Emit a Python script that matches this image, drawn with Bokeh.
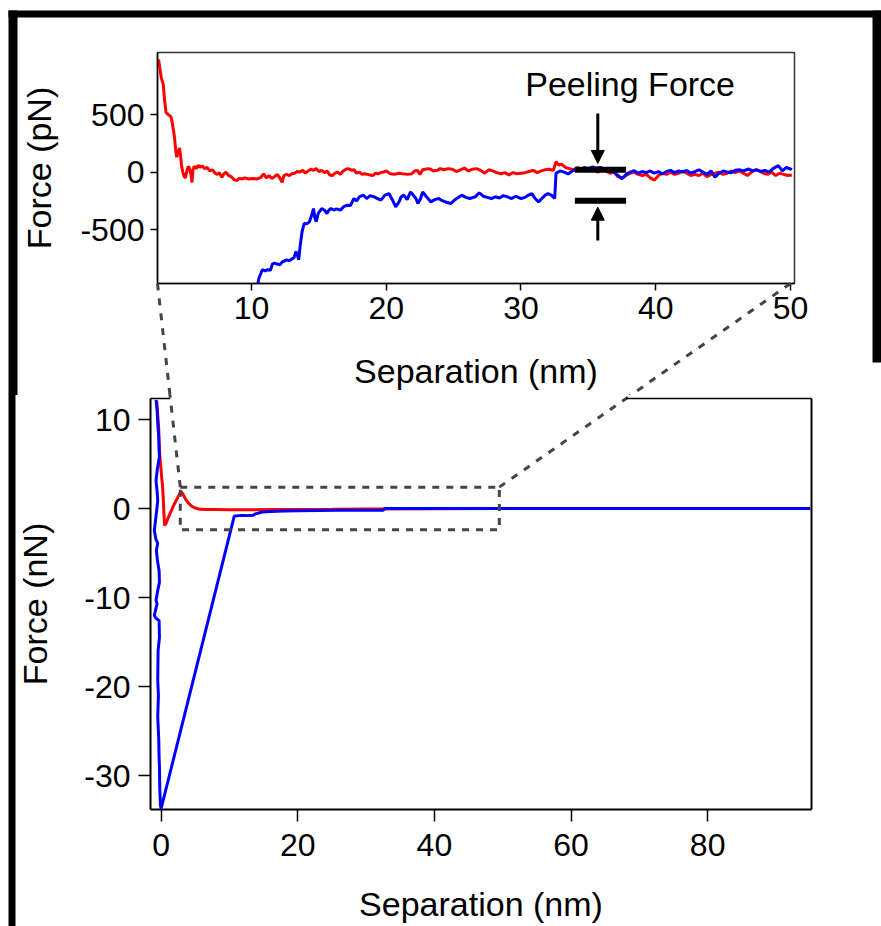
from bokeh.plotting import figure
from bokeh.models import Range1d, Arrow, NormalHead, Label, BoxAnnotation, FixedTicker
from bokeh.layouts import column
from bokeh.embed import file_html
from bokeh.resources import INLINE

FONT = "Liberation Sans"

# ---------------- data ----------------
# inset: force in pN vs separation in nm
inset_red_x = [3.1, 3.2, 3.3, 3.45, 3.55, 3.65, 3.8, 3.95, 4.05, 4.15, 4.25, 4.3, 4.38, 4.45, 4.55, 4.65, 4.72, 4.8, 4.9, 5.0,
               5.1, 5.2, 5.3, 5.4, 5.5, 5.58, 5.65, 5.75, 5.9, 6.05, 6.2, 6.35, 6.5, 6.7, 6.9, 7.1, 7.3, 7.45, 7.6, 7.8,
               7.95, 8.1, 8.3, 8.5, 8.7, 8.9, 9.1, 9.3, 9.5, 9.8, 10.1, 10.4, 10.7, 10.9, 11.1, 11.3, 11.5, 11.7, 11.9, 12.1,
               12.27, 12.4, 12.6, 12.8, 13.0, 13.2, 13.4, 13.6, 13.8, 14.0, 14.2, 14.4, 14.6, 14.8, 15.0, 15.2, 15.4, 15.6, 15.8, 16.0,
               16.2, 16.4, 16.6, 16.8, 17.0, 17.2, 17.4, 17.6, 17.8, 18.0, 18.2, 18.4, 18.6, 18.8, 19.0, 19.2, 19.4, 19.6, 19.8, 20.0,
               20.3, 20.6, 20.9, 21.2, 21.6, 21.9, 22.1, 22.3, 22.5, 22.7, 22.9, 23.1, 23.3, 23.5, 23.8, 24.0, 24.3, 24.6, 24.9, 25.2,
               25.5, 25.8, 26.1, 26.4, 26.7, 27.0, 27.3, 27.6, 27.9, 28.2, 28.5, 28.8, 29.1, 29.4, 29.7, 30.0, 30.3, 30.6, 30.9, 31.2,
               31.5, 31.8, 32.1, 32.4, 32.6, 32.8, 33.0, 33.3, 33.6, 33.9, 34.2, 34.5, 34.8, 35.1, 35.4, 35.7, 36.0, 36.3, 36.6, 36.9,
               37.2, 37.5, 37.8, 38.1, 38.4, 38.7, 39.0, 39.3, 39.6, 39.9, 40.2, 40.5, 40.8, 41.1, 41.4, 41.7, 42.0, 42.3, 42.6, 42.9,
               43.2, 43.5, 43.8, 44.1, 44.4, 44.7, 45.0, 45.3, 45.6, 45.9, 46.2, 46.5, 46.8, 47.1, 47.4, 47.7, 48.0, 48.3, 48.6, 48.9,
               49.2, 49.5, 49.8, 50.1]
inset_red_y = [980, 900, 820, 760, 620, 520, 500, 490, 470, 400, 330, 280, 180, 130, 170, 210, 160, 60, 0, -40,
               -50, 10, 50, 30, -20, -90, 20, 50, 30, 60, 40, 55, 30, 40, 10, 20, -10, -20, -5, -45,
               -15, 0, -30, -40, -65, -75, -55, -60, -50, -60, -55, -60, -45, -15, -50, -30, -55, -40, -20, -50,
               -90, -30, -20, -30, -15, -10, 5, 0, 15, -10, 10, 25, 15, 30, 5, 15, -5, 10, -25, -30,
               -10, 0, -20, 10, 25, 30, 15, 20, -10, 0, -20, -15, -20, -25, -30, -10, -15, -5, 0, 10,
               -15, -20, -10, -15, -20, -15, 10, 15, -20, 20, 25, 30, 25, 10, 15, 30, 20, 30, 25, 5,
               20, 35, 10, 25, 30, 15, -10, 20, 10, -5, -15, -5, -25, -5, -15, -10, -5, 5, 15, -5,
               10, 20, 25, 15, 90, 60, 70, 40, 30, 20, 40, 20, 30, 10, 20, 0, 20, 10, -10, 0,
               -40, -50, -30, -10, 0, -20, -30, -20, -50, -70, -30, -10, -20, 0, -20, -10, 10, -10, -30, -20,
               -30, -10, -40, -20, -10, 0, -20, -10, 10, -5, 10, -10, -30, 0, 20, 10, -10, -20, 0, -30,
               -10, -20, -30, -25]
inset_blue_x = [10.45, 10.55, 10.7, 10.8, 11.0, 11.2, 11.4, 11.55, 11.7, 11.9, 12.1, 12.3, 12.5, 12.6, 12.8, 13.0, 13.15, 13.3, 13.4, 13.5,
                13.6, 13.75, 13.9, 14.1, 14.3, 14.45, 14.6, 14.7, 14.8, 14.95, 15.2, 15.4, 15.6, 15.75, 15.9, 16.1, 16.3, 16.6, 16.85, 17.1,
                17.35, 17.6, 17.8, 18.0, 18.3, 18.55, 18.8, 19.1, 19.35, 19.6, 19.9, 20.2, 20.45, 20.7, 20.95, 21.1, 21.3, 21.55, 21.8, 22.0,
                22.2, 22.35, 22.55, 22.7, 22.95, 23.1, 23.3, 23.6, 23.9, 24.1, 24.4, 24.8, 25.1, 25.35, 25.6, 25.9, 26.2, 26.6, 26.9, 27.2,
                27.5, 27.8, 28.1, 28.4, 28.7, 29.0, 29.3, 29.6, 30.0, 30.3, 30.55, 30.8, 31.05, 31.3, 31.55, 31.8, 32.0, 32.25, 32.5, 32.6,
                32.9, 33.2, 33.5, 33.8, 34.1, 34.4, 34.7, 35.0, 35.3, 35.6, 35.9, 36.2, 36.5, 36.9, 37.2, 37.5, 37.8, 38.1, 38.4, 38.7,
                39.0, 39.3, 39.6, 39.9, 40.2, 40.5, 40.8, 41.1, 41.4, 41.7, 42.0, 42.3, 42.6, 42.9, 43.2, 43.5, 43.8, 44.1, 44.4, 44.7,
                45.0, 45.3, 45.6, 45.9, 46.2, 46.5, 46.9, 47.2, 47.5, 47.8, 48.1, 48.4, 48.7, 49.1, 49.4, 49.7, 50.0, 50.1]
inset_blue_y = [-980, -921, -880, -849, -860, -849, -855, -800, -791, -800, -806, -780, -770, -763, -770, -755, -745, -690, -720, -763,
                -650, -520, -447, -450, -432, -380, -317, -400, -432, -360, -317, -330, -360, -330, -317, -330, -320, -331, -300, -288,
                -290, -230, -250, -215, -201, -230, -205, -216, -230, -244, -200, -187, -240, -302, -260, -216, -200, -240, -172, -200,
                -230, -273, -230, -172, -210, -230, -259, -240, -230, -246, -260, -273, -240, -220, -201, -220, -230, -216, -180, -210,
                -220, -230, -215, -225, -205, -216, -230, -210, -230, -220, -200, -187, -230, -259, -230, -200, -187, -200, -230, -10,
                10, 0, -16, 10, 20, 15, 41, 30, 45, 35, 41, 20, 10, 0, -30, -59, -20, 0, 12, -10,
                5, -5, 10, -10, 5, -16, 5, 15, -5, 10, 0, 15, -10, 5, 20, 0, -20, 10, -45, -10,
                10, 0, -5, 15, 20, 10, 27, 10, 20, 5, 15, 0, 30, 56, 10, 40, 27, 20]

# main: force in nN vs separation in nm
main_red_x = [-0.65, -0.55, -0.45, -0.35, -0.3, -0.2, -0.1, 0.0, 0.1, 0.2, 0.3, 0.4, 0.5, 0.7, 1.0, 1.4, 1.8, 2.2, 2.6, 2.9,
              3.2, 3.6, 4.0, 4.5, 5.0, 5.5, 6.5, 8.0, 10.0, 13.0, 16.0, 20.0, 25.0, 30.0, 40.0, 50.0, 60.0, 70.0, 80.0, 90.0, 95.0]
main_red_y = [12.1, 11.0, 10.0, 8.8, 7.5, 6.0, 5.0, 4.2, 3.3, 2.6, 1.2, -0.5, -1.9, -1.7, -1.1, -0.4, 0.3, 0.9, 1.5, 1.9,
              1.6, 1.0, 0.6, 0.25, 0.05, -0.05, -0.1, -0.12, -0.15, -0.15, -0.12, -0.1, -0.08, -0.05, -0.03, 0.0, 0.0, 0.0, 0.0, 0.0, 0.0]
main_blue_x = [-0.75, -0.6, -0.5, -0.35, -0.3, -0.25, -0.55, -0.75, -0.6, -0.5, -0.7, -1.0, -0.75, -0.5, -0.7, -0.55, -0.3, -0.25, -0.5, -0.75,
               -0.6, -1.0, -0.8, -0.3, -0.25, -0.45, -0.5, -0.4, -0.5, -0.35, -0.3, -0.25, -0.2, -0.1, 0.0,
               10.7, 11.5, 12.5, 13.5, 13.8, 14.3, 14.8, 16.0, 18.0, 20.0, 23.0, 26.0, 29.0, 32.5, 32.7, 36.0, 40.0, 50.0, 60.0,
               70.0, 80.0, 90.0, 95.0]
main_blue_y = [12.2, 11.2, 9.6, 8.0, 6.5, 5.8, 4.5, 3.1, 2.0, 0.9, -0.5, -2.5, -3.5, -3.9, -4.7, -5.8, -7.0, -8.3, -9.2, -10.3,
               -10.7, -12.0, -12.3, -12.6, -14.5, -16.0, -19.3, -21.0, -23.4, -26.0, -28.0, -29.0, -31.5, -33.4, -33.7,
               -0.85, -0.8, -0.8, -0.75, -0.6, -0.5, -0.4, -0.35, -0.28, -0.25, -0.22, -0.2, -0.2, -0.2, 0.0, 0.0, 0.0, 0.0, 0.0,
               0.0, 0.0, 0.0, 0.0]

inset_xticks = [10, 20, 30, 40, 50]
inset_yticks = [-500, 0, 500]
main_xticks = [0, 20, 40, 60, 80]
main_yticks = [-30, -20, -10, 0, 10]

zoom_box_x = [2.8, 49.5]     # nm
zoom_box_y = [-2.4, 2.4]     # nN
peel_levels = [20, -250]     # pN : top / bottom of the peeling step
peel_x = [34.0, 37.8]        # nm extent of the level markers
peel_arrow_x = 35.7

# ---------------- layout (window pixels) ----------------
W, H = 881, 926
H1 = 395                       # height of the inset figure
IN_L, IN_R, IN_T, IN_B = 157, 794, 52, 283
MN_L, MN_R, MN_T, MN_B = 150, 811, 398, 809
IN_X, IN_Y = (3.02, 50.3), (-969.0, 1040.0)
MN_X, MN_Y = (-1.56, 95.2), (-33.82, 12.36)


def in_data(px, py):
    x = IN_X[0] + (px - IN_L) / (IN_R - IN_L) * (IN_X[1] - IN_X[0])
    y = IN_Y[0] + (IN_B - py) / (IN_B - IN_T) * (IN_Y[1] - IN_Y[0])
    return x, y


def in_px(x, y):
    px = IN_L + (x - IN_X[0]) / (IN_X[1] - IN_X[0]) * (IN_R - IN_L)
    py = IN_B - (y - IN_Y[0]) / (IN_Y[1] - IN_Y[0]) * (IN_B - IN_T)
    return px, py


def mn_data(px, py):
    x = MN_X[0] + (px - MN_L) / (MN_R - MN_L) * (MN_X[1] - MN_X[0])
    y = MN_Y[0] + (MN_B - py) / (MN_B - MN_T) * (MN_Y[1] - MN_Y[0])
    return x, y


def mn_px(x, y):
    px = MN_L + (x - MN_X[0]) / (MN_X[1] - MN_X[0]) * (MN_R - MN_L)
    py = MN_B - (y - MN_Y[0]) / (MN_Y[1] - MN_Y[0]) * (MN_B - MN_T)
    return px, py


def style_axes(p, tick_size, label_size, tick_out, label_standoff, axis_standoff, axis_w):
    for ax in (p.xaxis[0], p.yaxis[0]):
        ax.major_label_text_font = FONT
        ax.major_label_text_font_size = tick_size
        ax.major_label_text_color = "black"
        ax.axis_label_text_font = FONT
        ax.axis_label_text_font_size = label_size
        ax.axis_label_text_font_style = "normal"
        ax.axis_label_text_color = "black"
        ax.axis_line_color = "black"
        ax.axis_line_width = axis_w
        ax.major_tick_line_color = "black"
        ax.major_tick_line_width = 1.5
        ax.major_tick_in = 0
        ax.major_tick_out = tick_out
        ax.minor_tick_line_color = None
    p.xgrid.visible = False
    p.ygrid.visible = False
    p.xaxis[0].major_label_standoff = label_standoff[0]
    p.yaxis[0].major_label_standoff = label_standoff[1]
    p.xaxis[0].axis_label_standoff = axis_standoff[0]
    p.yaxis[0].axis_label_standoff = axis_standoff[1]


def seg(p, x0, y0, x1, y1, w, color="black", dash="solid"):
    r = p.segment(x0=[x0], y0=[y0], x1=[x1], y1=[y1], line_color=color, line_width=w, line_dash=dash)
    r.level = "overlay"
    return r


# ---------------- inset ----------------
inset = figure(width=W, height=H1, output_backend="svg", toolbar_location=None, title=None,
               x_range=Range1d(*IN_X), y_range=Range1d(*IN_Y), frame_align=False,
               min_border_left=IN_L, min_border_right=W - IN_R,
               min_border_top=IN_T, min_border_bottom=H1 - IN_B,
               x_axis_label="Separation (nm)", y_axis_label="Force (pN)")
inset.outline_line_color = "#333333"
inset.outline_line_width = 1.5
inset.xaxis.ticker = FixedTicker(ticks=inset_xticks)
inset.yaxis.ticker = FixedTicker(ticks=inset_yticks)
inset.yaxis.major_label_overrides = {v: str(v) for v in inset_yticks}
style_axes(inset, "32px", "34px", 7, (6, 6), (30, 19), 1.5)

inset.line(inset_red_x, inset_red_y, line_color="#ff0000", line_width=3)
inset.line(inset_blue_x, inset_blue_y, line_color="#0000ff", line_width=3)

# peeling force markers
for lev in peel_levels:
    inset.segment(x0=[peel_x[0]], y0=[lev], x1=[peel_x[1]], y1=[lev], line_color="black", line_width=6)
inset.add_layout(Arrow(end=NormalHead(size=13, fill_color="black", line_color="black"),
                       x_start=peel_arrow_x, y_start=510, x_end=peel_arrow_x, y_end=peel_levels[0] + 55,
                       line_color="black", line_width=3))
inset.add_layout(Arrow(end=NormalHead(size=13, fill_color="black", line_color="black"),
                       x_start=peel_arrow_x, y_start=-595, x_end=peel_arrow_x, y_end=peel_levels[1] - 55,
                       line_color="black", line_width=3))
inset.add_layout(Label(x=38.1, y=765, text="Peeling Force", text_font=FONT, text_font_size="34px",
                       text_align="center", text_baseline="alphabetic", text_color="black"))

# ---------------- main ----------------
H2 = H - H1
main = figure(width=W, height=H2, output_backend="svg", toolbar_location=None, title=None,
              x_range=Range1d(*MN_X), y_range=Range1d(*MN_Y), frame_align=False,
              min_border_left=MN_L, min_border_right=W - MN_R,
              min_border_top=MN_T - H1, min_border_bottom=H - MN_B,
              x_axis_label="Separation (nm)", y_axis_label="Force (nN)")
main.outline_line_color = None
main.xaxis.ticker = FixedTicker(ticks=main_xticks)
main.yaxis.ticker = FixedTicker(ticks=main_yticks)
main.yaxis.major_label_overrides = {v: str(v) for v in main_yticks}
style_axes(main, "32px", "34px", 12, (12, 8), (26, 27), 2)

main.line(main_red_x, main_red_y, line_color="#ff0000", line_width=3)
main.line(main_blue_x, main_blue_y, line_color="#0000ff", line_width=3)

main.add_layout(BoxAnnotation(left=zoom_box_x[0], right=zoom_box_x[1], bottom=zoom_box_y[0], top=zoom_box_y[1],
                              fill_alpha=0, line_alpha=1, line_color="#444444", line_width=3, line_dash="7 7"))

# ---------------- connectors between zoom box and inset ----------------
DASH = "7 8"
GREY = "#444444"
corners_in = [in_px(IN_X[0], IN_Y[0]), in_px(inset_xticks[-1], IN_Y[0])]
corners_mn = [mn_px(zoom_box_x[0], zoom_box_y[1]), mn_px(zoom_box_x[1], zoom_box_y[1])]
gap = []
for (ax_, ay_), (bx_, by_) in zip(corners_in, corners_mn):
    s = in_data(ax_, ay_)
    e = in_data(bx_, by_)
    seg(inset, s[0], s[1], e[0], e[1], 3, GREY, DASH)
    s2 = mn_data(bx_, by_)
    e2 = mn_data(ax_, ay_)
    seg(main, s2[0], s2[1], e2[0], e2[1], 3, GREY, DASH)
    t = (MN_T - ay_) / (by_ - ay_)
    gap.append(ax_ + t * (bx_ - ax_))

# main frame: right side and the parts of the top edge that are not covered
xl, _ = mn_data(gap[0], MN_T)
xr, _ = mn_data(gap[1], MN_T)
seg(main, MN_X[1], MN_Y[0], MN_X[1], MN_Y[1], 2)
seg(main, MN_X[0], MN_Y[1], xl, MN_Y[1], 1.5)
seg(main, xr, MN_Y[1], MN_X[1], MN_Y[1], 1.5)

# ---------------- thick outer frame ----------------
a = in_data(8, 13.5); b = in_data(W, 13.5)
seg(inset, a[0], a[1], b[0], b[1], 7)
a = in_data(12.5, 10); b = in_data(12.5, H1 + 20)
seg(inset, a[0], a[1], b[0], b[1], 9)
a = in_data(876.5, 10); b = in_data(876.5, 362)
seg(inset, a[0], a[1], b[0], b[1], 9)
a = mn_data(11.5, H1 - 20); b = mn_data(11.5, H + 20)
seg(main, a[0], a[1], b[0], b[1], 7)

layout = column(inset, main, spacing=0)
open("out.html", "w").write(file_html(layout, INLINE))
